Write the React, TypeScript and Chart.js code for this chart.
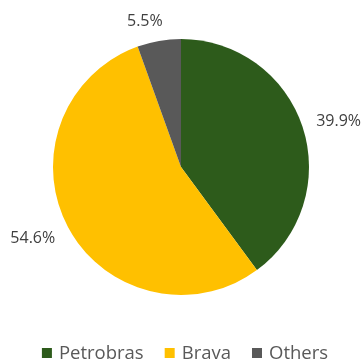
import React, { useEffect, useRef } from "react";
import { Chart, registerables } from "chart.js";

Chart.register(...registerables);

const categories = ["Petrobras", "Brava", "Others"];
const shares = [39.9, 54.6, 5.5];
const valueLabels = ["39.9%", "54.6%", "5.5%"];
const colors = ["#2D5B1B", "#FFC000", "#595959"];

// small label nudges (style), mimicking the spreadsheet's best-fit placement
const labelNudgeX = [1, -3, -10];
const labelNudgeY = [6, -6, 4];

const labelPlugin = {
  id: "outsideLabels",
  afterDraw(chart: any) {
    const ctx = chart.ctx;
    const meta = chart.getDatasetMeta(0);
    ctx.save();
    ctx.font = "16px 'Open Sans'";
    ctx.fillStyle = "#404040";
    ctx.textAlign = "center";
    ctx.textBaseline = "middle";
    meta.data.forEach((arc: any, i: number) => {
      const mid = (arc.startAngle + arc.endAngle) / 2;
      const w = ctx.measureText(valueLabels[i]).width;
      const c = Math.cos(mid);
      const s = Math.sin(mid);
      const off = 13 + (w / 2) * Math.abs(c) + 8 * Math.abs(s);
      const r = arc.outerRadius + off;
      ctx.fillText(
        valueLabels[i],
        arc.x + c * r + labelNudgeX[i],
        arc.y + s * r + labelNudgeY[i]
      );
    });

    // legend
    ctx.font = "18.5px 'Open Sans'";
    ctx.textAlign = "left";
    ctx.textBaseline = "alphabetic";
    const box = 10;
    const gap = 7;
    const between = 21;
    const widths = categories.map((c) => box + gap + ctx.measureText(c).width);
    const total = widths.reduce((a, b) => a + b, 0) + between * (categories.length - 1);
    let x = (chart.width - total) / 2 + 4;
    const baseline = 359;
    categories.forEach((c, i) => {
      ctx.fillStyle = colors[i];
      ctx.fillRect(x, 348, box, box);
      ctx.fillStyle = "#595959";
      ctx.fillText(c, x + box + gap, baseline);
      x += widths[i] + between;
    });
    ctx.restore();
  },
};

export default function App() {
  const ref = useRef<HTMLCanvasElement>(null);
  useEffect(() => {
    document.body.style.margin = "0";
    const chart = new Chart(ref.current!, {
      type: "pie",
      data: {
        labels: categories,
        datasets: [
          {
            data: shares,
            backgroundColor: colors,
            borderWidth: 0,
          },
        ],
      },
      options: {
        animation: false,
        responsive: true,
        maintainAspectRatio: false,
        layout: { padding: { top: 39, bottom: 65, left: 53, right: 53 } },
        plugins: {
          legend: { display: false },
          tooltip: { enabled: false },
        },
      },
      plugins: [labelPlugin],
    });
    return () => chart.destroy();
  }, []);
  return (
    <div style={{ position: "relative", width: 362, height: 360 }}>
      <canvas ref={ref} />
    </div>
  );
}
